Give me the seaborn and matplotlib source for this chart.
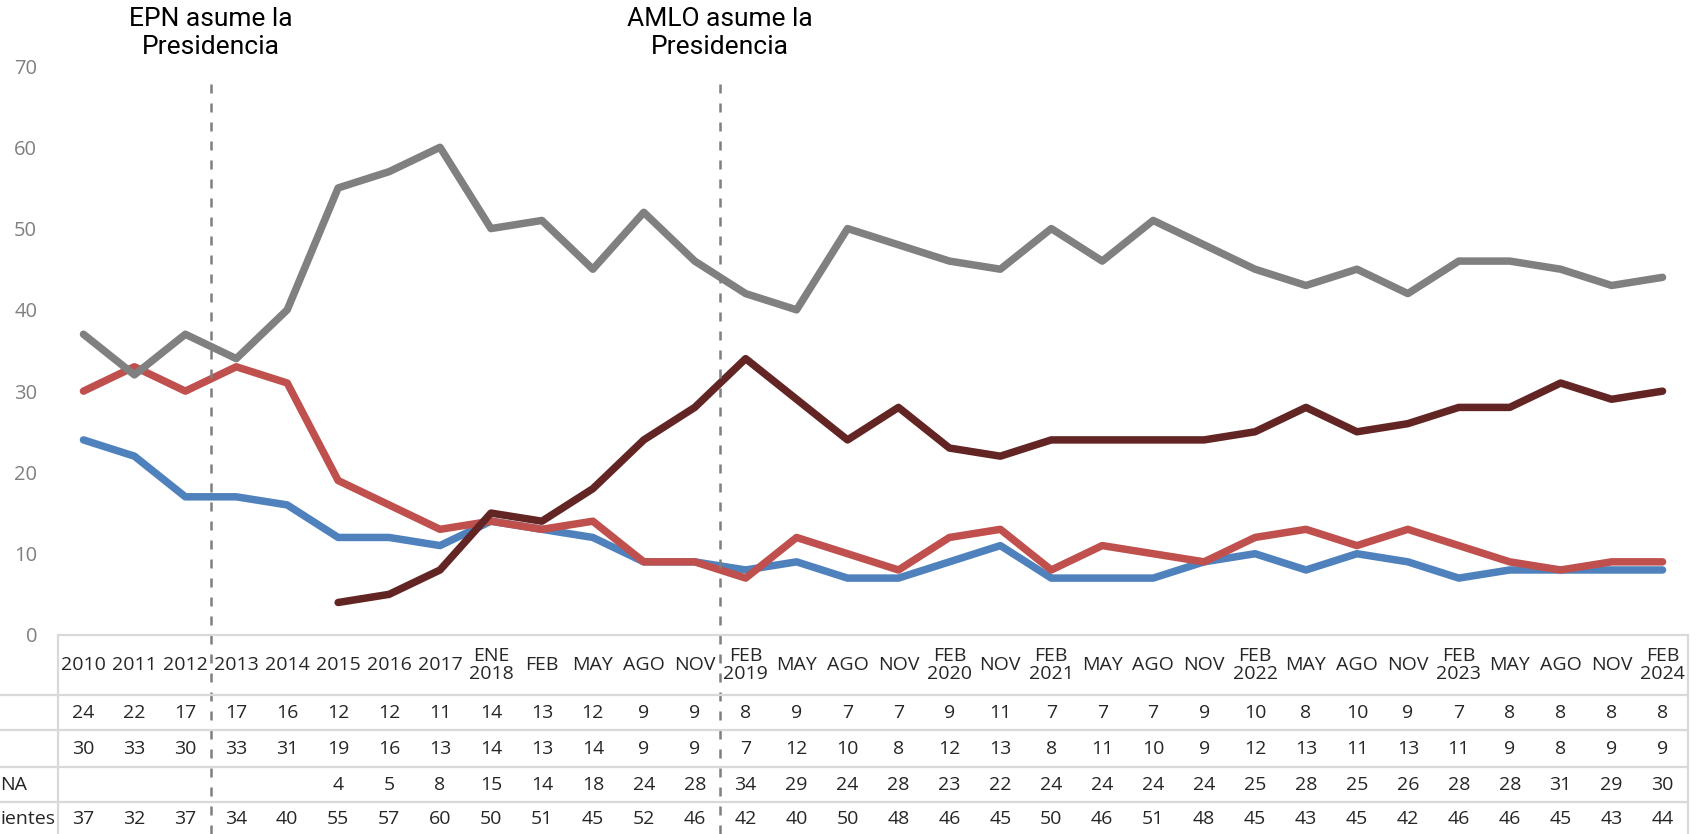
import numpy as np
import pandas as pd
import seaborn as sns
import matplotlib.pyplot as plt
from matplotlib.transforms import blended_transform_factory

# categories (survey waves)
cats = ["2010", "2011", "2012", "2013", "2014", "2015", "2016", "2017",
        "ENE\n2018", "FEB", "MAY", "AGO", "NOV",
        "FEB\n2019", "MAY", "AGO", "NOV", "FEB\n2020", "NOV",
        "FEB\n2021", "MAY", "AGO", "NOV", "FEB\n2022", "MAY", "AGO", "NOV",
        "FEB\n2023", "MAY", "AGO", "NOV", "FEB\n2024"]

pan = [24, 22, 17, 17, 16, 12, 12, 11, 14, 13, 12, 9, 9,
       8, 9, 7, 7, 9, 11, 7, 7, 7, 9, 10, 8, 10, 9, 7, 8, 8, 8, 8]
pri = [30, 33, 30, 33, 31, 19, 16, 13, 14, 13, 14, 9, 9,
       7, 12, 10, 8, 12, 13, 8, 11, 10, 9, 12, 13, 11, 13, 11, 9, 8, 9, 9]
morena = [np.nan] * 5 + [4, 5, 8, 15, 14, 18, 24, 28,
                         34, 29, 24, 28, 23, 22, 24, 24, 24, 24, 25, 28, 25, 26, 28, 28, 31, 29, 30]
indep = [37, 32, 37, 34, 40, 55, 57, 60, 50, 51, 45, 52, 46,
         42, 40, 50, 48, 46, 45, 50, 46, 51, 48, 45, 43, 45, 42, 46, 46, 45, 43, 44]

series_names = ["PAN", "PRI", "MORENA", "Independientes"]
series_vals = [pan, pri, morena, indep]
# row headers as far as they show in the cropped picture
row_headers = ["", "", "NA", "ientes"]
colors = ["#4F81BD", "#C0504D", "#632523", "#808080"]

W, H = 1697, 834
x0_px, x1_px = 58, 1688       # plot/table left and right edges
y0_px, y70_px = 635, 66        # pixel rows of value 0 and 70


def main():
    sns.set_theme(style="white")
    plt.rcParams["font.family"] = ["Open Sans", "DejaVu Sans"]

    n = len(cats)
    rows = []
    for name, vals in zip(series_names, series_vals):
        for i, v in enumerate(vals):
            rows.append({"idx": i, "valor": v, "serie": name})
    df = pd.DataFrame(rows).dropna()

    fig = plt.figure(figsize=(W / 100, H / 100), dpi=100)
    ax = fig.add_axes([x0_px / W, 1 - y0_px / H, (x1_px - x0_px) / W, (y0_px - y70_px) / H])

    sns.lineplot(data=df, x="idx", y="valor", hue="serie", hue_order=series_names,
                 palette=colors, linewidth=5.4, legend=False, ax=ax)
    for ln in ax.lines:
        ln.set_solid_capstyle("round")
        ln.set_solid_joinstyle("round")
    ax.set_xlim(-0.5, n - 0.5)
    ax.set_ylim(0, 70)
    ax.set_yticks(range(0, 71, 10))
    ax.tick_params(axis="y", length=0, pad=15, labelsize=14.5, labelcolor="#808080")
    ax.set_xticks([])
    ax.set_xlabel("")
    ax.set_ylabel("")
    for s in ax.spines.values():
        s.set_visible(False)

    # president change markers
    tab_h = (H - y0_px) / (y0_px - y70_px)
    top = (y0_px - 83) / (y0_px - y70_px)
    for xpos, label in [(2.5, "EPN asume la\nPresidencia"), (12.5, "AMLO asume la\nPresidencia")]:
        ax.axvline(xpos, ymin=-tab_h, ymax=top, color="#7F7F7F", lw=1.8,
                   dashes=(3.6, 4.0), clip_on=False, zorder=5)
        ax.annotate(label, xy=(xpos, 1.0), xycoords=("data", "figure fraction"),
                    xytext=(0, -5), textcoords="offset points",
                    ha="center", va="top", fontsize=19, family=["Roboto", "DejaVu Sans"],
                    color="black", linespacing=1.2)

    # data table
    tx = fig.add_axes([x0_px / W, 0, (x1_px - x0_px) / W, (H - y0_px) / H])
    tx.set_xlim(-0.5, n - 0.5)
    tx.set_ylim(H, y0_px)
    tx.axis("off")
    grid_c = "#D9D9D9"
    tx.plot([-0.5, n - 0.5], [y0_px, y0_px], color=grid_c, lw=1.6, clip_on=False)
    tx.plot([-0.5, -0.5], [y0_px, H], color=grid_c, lw=1.6, clip_on=False)
    tx.plot([n - 0.5, n - 0.5], [y0_px, H], color=grid_c, lw=1.6, clip_on=False)
    row_lines = [695, 730, 767, 802]
    for yl in row_lines:
        tx.axhline(yl, xmin=-0.04, xmax=1, color=grid_c, lw=1.6, clip_on=False)

    for i, c in enumerate(cats):
        tx.text(i, 665, c, ha="center", va="center", fontsize=14, linespacing=0.95)

    row_centers = [713, 749, 785, 819]
    lab_tr = blended_transform_factory(fig.transFigure, tx.transData)
    for head, vals, yc in zip(row_headers, series_vals, row_centers):
        if head:
            tx.text(0.5 / W, yc, head, ha="left", va="center", fontsize=14,
                    transform=lab_tr, clip_on=False)
        for i, v in enumerate(vals):
            if not np.isnan(v):
                tx.text(i, yc, str(int(v)), ha="center", va="center", fontsize=14)

    fig.savefig("out.png", dpi=100)


if __name__ == "__main__":
    main()
